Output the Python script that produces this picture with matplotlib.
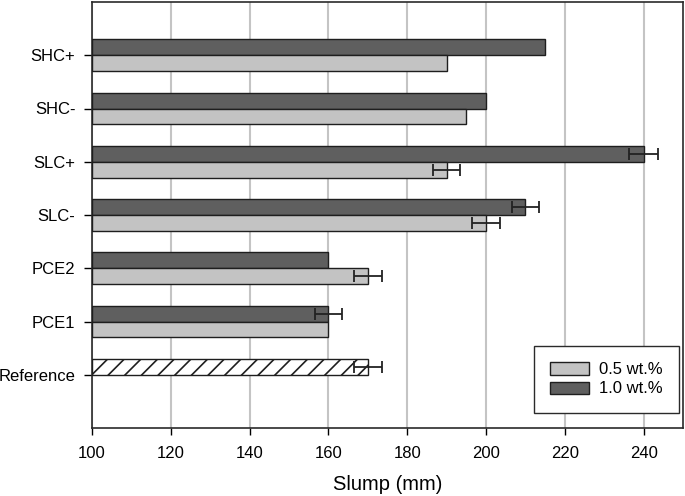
import matplotlib
matplotlib.use("Agg")
import matplotlib.pyplot as plt
import numpy as np

plt.rcParams['font.family'] = ['Liberation Sans', 'DejaVu Sans']
plt.rcParams['hatch.linewidth'] = 1.2

categories = ["Reference", "PCE1", "PCE2", "SLC-", "SLC+", "SHC-", "SHC+"]
# 0.5 wt.% (light) -- Reference has no separate series
low_vals = [None, 160, 170, 200, 190, 195, 190]
low_err = [None, 0, 3.5, 3.5, 3.5, 0, 0]
# 1.0 wt.% (dark)
high_vals = [None, 160, 160, 210, 240, 200, 215]
high_err = [None, 3.5, 0, 3.5, 3.7, 0, 0]
ref_val = 170
ref_err = 3.5
x_ticks = [100, 120, 140, 160, 180, 200, 220, 240]

light = "#c3c3c3"
dark = "#5f5f5f"
edge = "#1e1e1e"
base = 100
h = 0.30

fig = plt.figure(figsize=(6.85, 4.96), dpi=100)
ax = fig.add_axes([92/685, 1-428/496, 591/685, 426/496])

y = np.arange(len(categories))
eb_kw = dict(ecolor="#222222", elinewidth=1.3, capsize=4.5, capthick=1.3)

for i, cat in enumerate(categories):
    if cat == "Reference":
        ax.barh(y[i] + h/2, ref_val - base, height=h, left=base,
                color="white", edgecolor=edge, hatch="//", linewidth=1.0, zorder=3)
        ax.errorbar(ref_val, y[i] + h/2, xerr=ref_err, fmt="none", zorder=4, **eb_kw)
        continue
    ax.barh(y[i] + h/2, high_vals[i] - base, height=h, left=base,
            color=dark, edgecolor=edge, linewidth=1.0, zorder=3,
            label="1.0 wt.%" if i == 1 else None)
    ax.barh(y[i] - h/2, low_vals[i] - base, height=h, left=base,
            color=light, edgecolor=edge, linewidth=1.0, zorder=3,
            label="0.5 wt.%" if i == 1 else None)
    if high_err[i]:
        ax.errorbar(high_vals[i], y[i] + h/2, xerr=high_err[i], fmt="none", zorder=4, **eb_kw)
    if low_err[i]:
        ax.errorbar(low_vals[i], y[i] - h/2, xerr=low_err[i], fmt="none", zorder=4, **eb_kw)

ax.set_xlim(100, 250)
ax.set_ylim(-1, len(categories))
ax.set_xticks(x_ticks)
ax.set_xticklabels([str(t) for t in x_ticks], fontsize=12)
ax.set_yticks(y)
ax.set_yticklabels(categories, fontsize=12)
ax.tick_params(axis="y", direction="out", length=6, width=1.0, pad=6)
ax.tick_params(axis="x", direction="out", length=5, width=1.0, pad=8)
ax.xaxis.grid(True, color="#c4c4c4", linewidth=1.5, zorder=0)
ax.set_axisbelow(True)
for s in ax.spines.values():
    s.set_color("#2a2a2a")
    s.set_linewidth(1.2)
ax.set_xlabel("Slump (mm)", fontsize=14.5, labelpad=10)

handles, labels = ax.get_legend_handles_labels()
order = [labels.index("0.5 wt.%"), labels.index("1.0 wt.%")]
leg = ax.legend([handles[k] for k in order], [labels[k] for k in order],
                loc="lower right", bbox_to_anchor=(0.993, 0.035), borderaxespad=0,
                fontsize=12, fancybox=False, framealpha=1, edgecolor="#2a2a2a",
                handlelength=2.3, handleheight=0.75, labelspacing=0.25,
                borderpad=1.0, handletextpad=0.6)
leg.get_frame().set_linewidth(1.0)

fig.savefig("out.png", dpi=100)
